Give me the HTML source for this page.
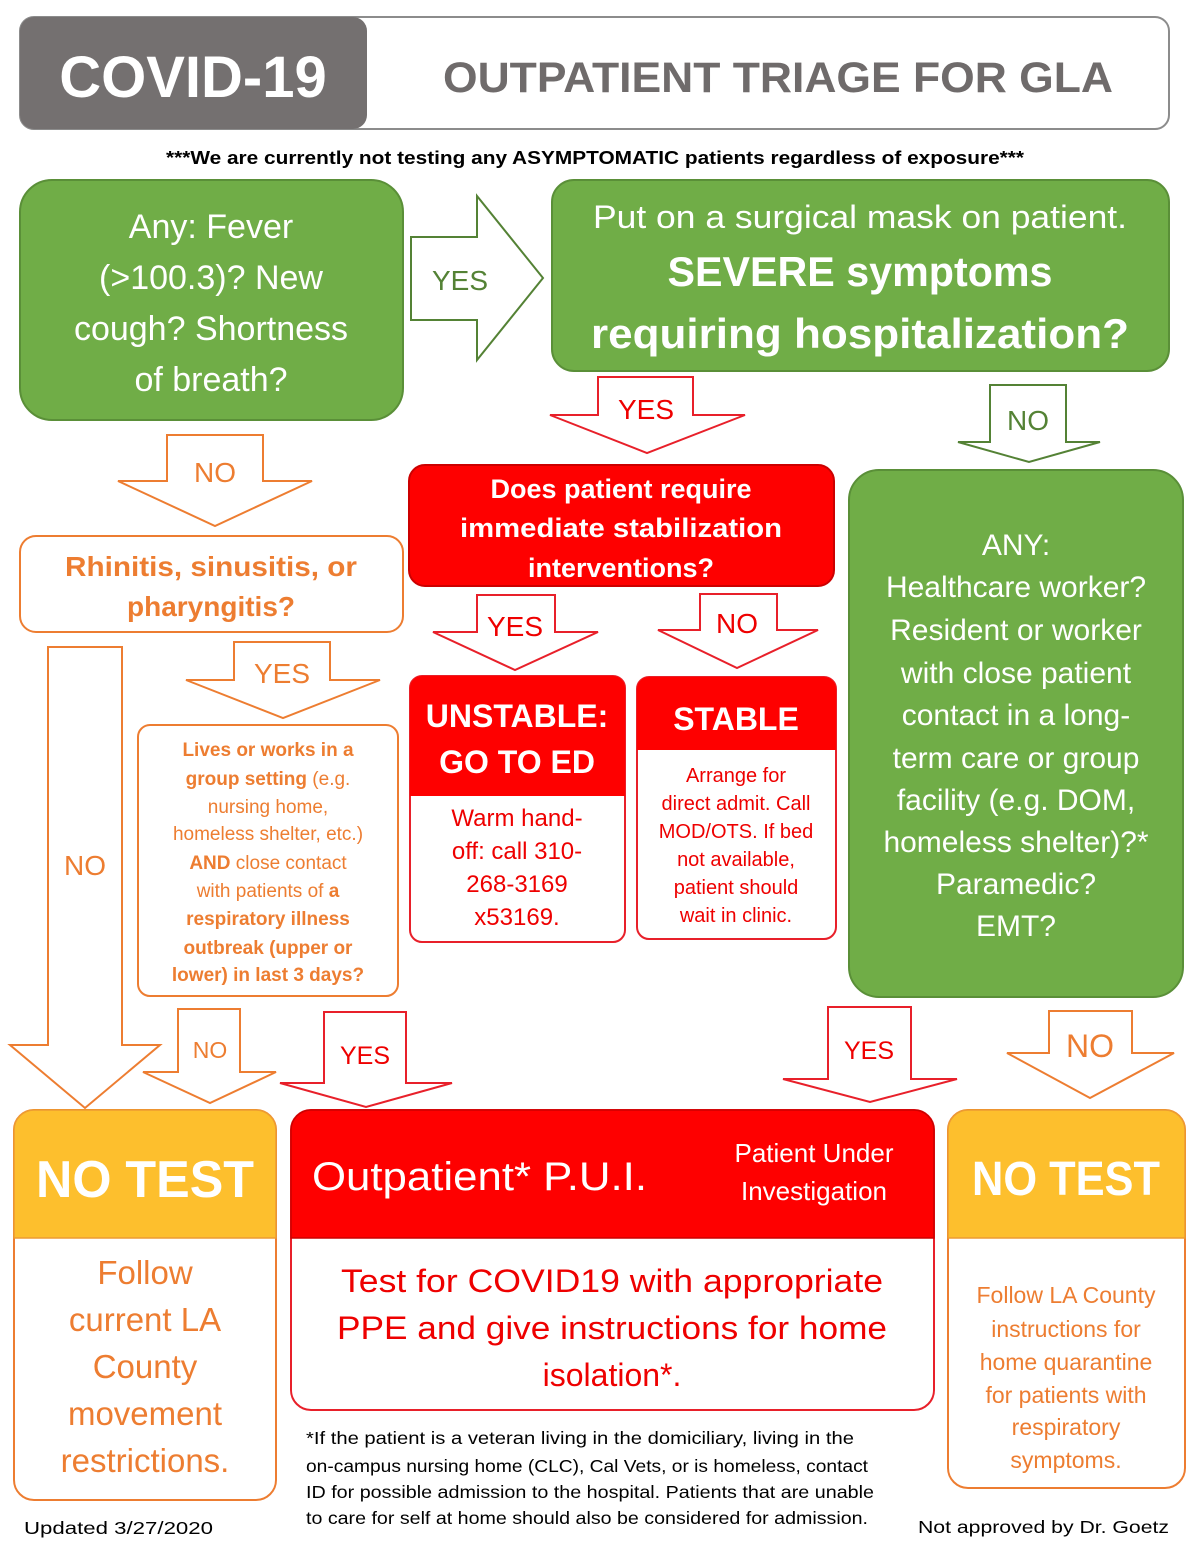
<!DOCTYPE html>
<html><head><meta charset="utf-8"><style>
html,body{margin:0;padding:0;background:#fff;}
svg{display:block;font-family:"Liberation Sans",sans-serif;}
</style></head><body>
<svg width="1204" height="1552" viewBox="0 0 1204 1552" xmlns="http://www.w3.org/2000/svg">
<!-- header -->
<rect x="20" y="17" width="1149" height="112" rx="14" fill="#fff" stroke="#8c8c8c" stroke-width="2"/>
<rect x="20" y="17" width="347" height="112" rx="14" fill="#747070"/>
<text x="193" y="97" font-size="58" font-weight="bold" fill="#fff" text-anchor="middle">COVID-19</text>
<text x="778" y="92" font-size="43" font-weight="bold" fill="#6f6b6b" text-anchor="middle" textLength="670" lengthAdjust="spacingAndGlyphs">OUTPATIENT TRIAGE FOR GLA</text>
<text x="595" y="164" font-size="18" font-weight="bold" fill="#000" text-anchor="middle" textLength="858" lengthAdjust="spacingAndGlyphs">***We are currently not testing any ASYMPTOMATIC patients regardless of exposure***</text>

<!-- green box 1 -->
<rect x="20" y="180" width="383" height="240" rx="32" fill="#70ad47" stroke="#5a8f38" stroke-width="2"/>
<g fill="#fff" font-size="34" text-anchor="middle">
<text x="211" y="238">Any: Fever</text><text x="211" y="289">(&gt;100.3)? New</text>
<text x="211" y="340">cough? Shortness</text><text x="211" y="391">of breath?</text></g>

<!-- yes right arrow -->
<polygon points="411,237 477,237 477,196 543,278 477,360 477,320 411,320" fill="#fff" stroke="#548235" stroke-width="2"/>
<text x="460" y="290" font-size="28" fill="#548235" text-anchor="middle">YES</text>

<!-- green box 2 -->
<rect x="552" y="180" width="617" height="191" rx="22" fill="#70ad47" stroke="#5a8f38" stroke-width="2"/>
<g fill="#fff" text-anchor="middle">
<text x="860" y="228" font-size="32" textLength="534" lengthAdjust="spacingAndGlyphs">Put on a surgical mask on patient.</text>
<text x="860" y="286" font-size="42" font-weight="bold" textLength="385" lengthAdjust="spacingAndGlyphs">SEVERE symptoms</text>
<text x="860" y="348" font-size="42" font-weight="bold" textLength="538" lengthAdjust="spacingAndGlyphs">requiring hospitalization?</text></g>

<!-- red yes down -->
<polygon points="598,377 693,377 693,415 745,415 647,453 550,415 598,415" fill="#fff" stroke="#e8202a" stroke-width="2"/>
<text x="646" y="419" font-size="28" fill="#e00" text-anchor="middle">YES</text>
<!-- green no down -->
<polygon points="990,385 1066,385 1066,442 1100,442 1029,462 958,442 990,442" fill="#fff" stroke="#548235" stroke-width="2"/>
<text x="1028" y="430" font-size="28" fill="#548235" text-anchor="middle">NO</text>
<!-- orange no down -->
<polygon points="167,435 263,435 263,481 312,481 215,526 118,481 167,481" fill="#fff" stroke="#ed7d31" stroke-width="2"/>
<text x="215" y="482" font-size="28" fill="#ed7d31" text-anchor="middle">NO</text>

<!-- rhinitis -->
<rect x="20" y="536" width="383" height="96" rx="16" fill="#fff" stroke="#ed7d31" stroke-width="2"/>
<g fill="#ed7d31" font-size="28" font-weight="bold" text-anchor="middle">
<text x="211" y="576" textLength="292" lengthAdjust="spacingAndGlyphs">Rhinitis, sinusitis, or</text><text x="211" y="616">pharyngitis?</text></g>

<!-- red question -->
<rect x="409" y="465" width="425" height="121" rx="16" fill="#fe0000" stroke="#c00" stroke-width="2"/>
<g fill="#fff" font-size="27" font-weight="bold" text-anchor="middle">
<text x="621" y="498">Does patient require</text>
<text x="621" y="537" textLength="322" lengthAdjust="spacingAndGlyphs">immediate stabilization</text>
<text x="621" y="577">interventions?</text></g>

<polygon points="477,595 555,595 555,632 598,632 515,670 433,632 477,632" fill="#fff" stroke="#e8202a" stroke-width="2"/>
<text x="515" y="636" font-size="28" fill="#e00" text-anchor="middle">YES</text>
<polygon points="700,594 777,594 777,630 818,630 737,668 658,630 700,630" fill="#fff" stroke="#e8202a" stroke-width="2"/>
<text x="737" y="633" font-size="28" fill="#e00" text-anchor="middle">NO</text>

<!-- unstable -->
<rect x="410" y="676" width="215" height="266" rx="12" fill="#fff" stroke="#e8202a" stroke-width="2"/>
<path d="M410,796 V688 a12,12 0 0 1 12,-12 H613 a12,12 0 0 1 12,12 V796 Z" fill="#fe0000"/>
<g fill="#fff" font-size="32" font-weight="bold" text-anchor="middle">
<text x="517" y="727">UNSTABLE:</text><text x="517" y="773">GO TO ED</text></g>
<g fill="#e00" font-size="24" text-anchor="middle">
<text x="517" y="826">Warm hand-</text><text x="517" y="859">off: call 310-</text>
<text x="517" y="892">268-3169</text><text x="517" y="925">x53169.</text></g>

<!-- stable -->
<rect x="637" y="677" width="199" height="262" rx="12" fill="#fff" stroke="#e8202a" stroke-width="2"/>
<path d="M637,750 V689 a12,12 0 0 1 12,-12 H824 a12,12 0 0 1 12,12 V750 Z" fill="#fe0000"/>
<text x="736" y="730" font-size="32" font-weight="bold" fill="#fff" text-anchor="middle">STABLE</text>
<g fill="#e00" font-size="20" text-anchor="middle">
<text x="736" y="782">Arrange for</text><text x="736" y="810">direct admit. Call</text>
<text x="736" y="838">MOD/OTS. If bed</text><text x="736" y="866">not available,</text>
<text x="736" y="894">patient should</text><text x="736" y="922">wait in clinic.</text></g>

<!-- big green -->
<rect x="849" y="470" width="334" height="527" rx="30" fill="#70ad47" stroke="#5a8f38" stroke-width="2"/>
<g fill="#fff" font-size="30" text-anchor="middle">
<text x="1016" y="555">ANY:</text><text x="1016" y="597">Healthcare worker?</text>
<text x="1016" y="640">Resident or worker</text><text x="1016" y="683">with close patient</text>
<text x="1016" y="725">contact in a long-</text><text x="1016" y="768">term care or group</text>
<text x="1016" y="810">facility (e.g. DOM,</text><text x="1016" y="852">homeless shelter)?*</text>
<text x="1016" y="894">Paramedic?</text><text x="1016" y="936">EMT?</text></g>

<!-- orange yes -->
<polygon points="234,642 330,642 330,680 380,680 283,718 186,680 234,680" fill="#fff" stroke="#ed7d31" stroke-width="2"/>
<text x="282" y="683" font-size="28" fill="#ed7d31" text-anchor="middle">YES</text>

<!-- group setting box -->
<rect x="138" y="725" width="260" height="271" rx="12" fill="#fff" stroke="#ed7d31" stroke-width="2"/>
<g fill="#ed7d31" font-size="19" text-anchor="middle">
<text x="268" y="756" font-weight="bold">Lives or works in a</text>
<text x="268" y="785"><tspan font-weight="bold">group setting</tspan> (e.g.</text>
<text x="268" y="813">nursing home,</text>
<text x="268" y="840">homeless shelter, etc.)</text>
<text x="268" y="869"><tspan font-weight="bold">AND</tspan> close contact</text>
<text x="268" y="897">with patients of <tspan font-weight="bold">a</tspan></text>
<text x="268" y="925" font-weight="bold">respiratory illness</text>
<text x="268" y="954" font-weight="bold">outbreak (upper or</text>
<text x="268" y="981" font-weight="bold">lower) in last 3 days?</text></g>

<!-- big no down -->
<polygon points="48,647 122,647 122,1045 160,1045 85,1108 10,1045 48,1045" fill="#fff" stroke="#ed7d31" stroke-width="2"/>
<text x="85" y="875" font-size="28" fill="#ed7d31" text-anchor="middle">NO</text>

<polygon points="178,1009 240,1009 240,1072 276,1072 210,1103 143,1072 178,1072" fill="#fff" stroke="#ed7d31" stroke-width="2"/>
<text x="210" y="1058" font-size="23" fill="#ed7d31" text-anchor="middle">NO</text>
<polygon points="324,1012 406,1012 406,1083 452,1083 366,1107 280,1083 324,1083" fill="#fff" stroke="#e8202a" stroke-width="2"/>
<text x="365" y="1064" font-size="25" fill="#e00" text-anchor="middle">YES</text>
<polygon points="828,1007 911,1007 911,1079 957,1079 870,1102 783,1079 828,1079" fill="#fff" stroke="#e8202a" stroke-width="2"/>
<text x="869" y="1059" font-size="25" fill="#e00" text-anchor="middle">YES</text>
<polygon points="1049,1011 1132,1011 1132,1053 1174,1053 1090,1098 1007,1053 1049,1053" fill="#fff" stroke="#ed7d31" stroke-width="2"/>
<text x="1090" y="1057" font-size="32" fill="#ed7d31" text-anchor="middle">NO</text>

<!-- bottom left -->
<rect x="14" y="1110" width="262" height="390" rx="20" fill="#fff" stroke="#ed7d31" stroke-width="2"/>
<path d="M14,1238 V1130 a20,20 0 0 1 20,-20 H256 a20,20 0 0 1 20,20 V1238 Z" fill="#fdbf2d" stroke="#ed9c31" stroke-width="1.5"/>
<text x="145" y="1197" font-size="52" font-weight="bold" fill="#fff" text-anchor="middle" textLength="218" lengthAdjust="spacingAndGlyphs">NO TEST</text>
<g fill="#ed7d31" font-size="33" text-anchor="middle">
<text x="145" y="1284">Follow</text><text x="145" y="1331">current LA</text>
<text x="145" y="1378">County</text><text x="145" y="1425">movement</text>
<text x="145" y="1472">restrictions.</text></g>

<!-- middle -->
<rect x="291" y="1110" width="643" height="300" rx="20" fill="#fff" stroke="#e8202a" stroke-width="2"/>
<path d="M291,1238 V1130 a20,20 0 0 1 20,-20 H914 a20,20 0 0 1 20,20 V1238 Z" fill="#fe0000" stroke="#c00" stroke-width="1.5"/>
<text x="312" y="1190" font-size="40" fill="#fff" textLength="335" lengthAdjust="spacingAndGlyphs">Outpatient* P.U.I.</text>
<g fill="#fff" font-size="26" text-anchor="middle">
<text x="814" y="1162">Patient Under</text><text x="814" y="1200">Investigation</text></g>
<g fill="#e00" font-size="32" text-anchor="middle">
<text x="612" y="1292" textLength="542" lengthAdjust="spacingAndGlyphs">Test for COVID19 with appropriate</text>
<text x="612" y="1339" textLength="550" lengthAdjust="spacingAndGlyphs">PPE and give instructions for home</text>
<text x="612" y="1386">isolation*.</text></g>

<!-- right -->
<rect x="948" y="1110" width="237" height="378" rx="20" fill="#fff" stroke="#ed7d31" stroke-width="2"/>
<path d="M948,1238 V1130 a20,20 0 0 1 20,-20 H1165 a20,20 0 0 1 20,20 V1238 Z" fill="#fdbf2d" stroke="#ed9c31" stroke-width="1.5"/>
<text x="1066" y="1195" font-size="48" font-weight="bold" fill="#fff" text-anchor="middle" textLength="188" lengthAdjust="spacingAndGlyphs">NO TEST</text>
<g fill="#ed7d31" font-size="23" text-anchor="middle">
<text x="1066" y="1303">Follow LA County</text><text x="1066" y="1337">instructions for</text>
<text x="1066" y="1370">home quarantine</text><text x="1066" y="1403">for patients with</text>
<text x="1066" y="1435">respiratory</text><text x="1066" y="1468">symptoms.</text></g>

<!-- footnote -->
<g fill="#000" font-size="17.5">
<text x="306" y="1444" textLength="548" lengthAdjust="spacingAndGlyphs">*If the patient is a veteran living in the domiciliary, living in the</text>
<text x="306" y="1472" textLength="562" lengthAdjust="spacingAndGlyphs">on-campus nursing home (CLC), Cal Vets, or is homeless, contact</text>
<text x="306" y="1498" textLength="568" lengthAdjust="spacingAndGlyphs">ID for possible admission to the hospital. Patients that are unable</text>
<text x="306" y="1524" textLength="562" lengthAdjust="spacingAndGlyphs">to care for self at home should also be considered for admission.</text>
<text x="24" y="1534" textLength="189" lengthAdjust="spacingAndGlyphs">Updated 3/27/2020</text>
<text x="918" y="1533" textLength="251" lengthAdjust="spacingAndGlyphs">Not approved by Dr. Goetz</text></g>
</svg>
</body></html>
